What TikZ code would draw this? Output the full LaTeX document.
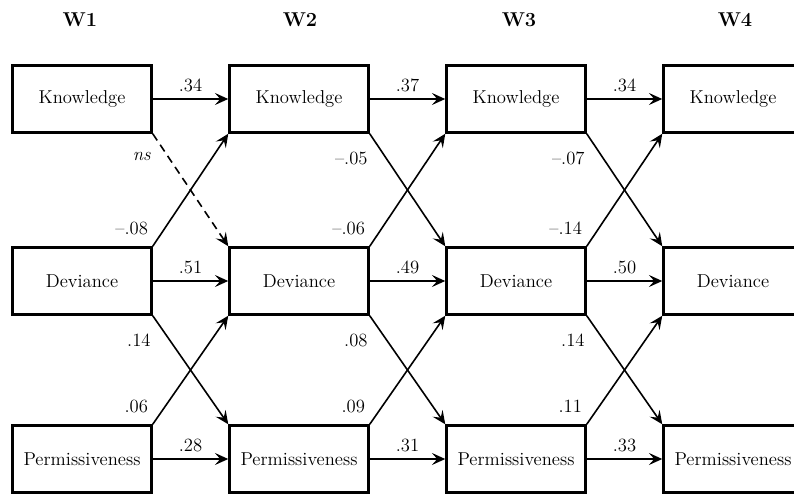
\documentclass[tikz,border=0pt]{standalone}
\usepackage{fontspec}
\usetikzlibrary{arrows.meta}

\begin{document}
\begin{tikzpicture}[x=0.75pt, y=-0.75pt,
    every node/.style={font=\fontsize{14}{16}\selectfont},
    var/.style={draw, line width=2.1pt, minimum width=104pt, minimum height=50pt, inner sep=0pt},
    wave/.style={font=\fontsize{15}{17}\selectfont\bfseries},
    eff/.style={line width=1.2pt, -{Stealth[length=10pt, width=9pt, inset=4pt]}},
    hlab/.style={midway, above=5pt, inner sep=0pt},
    uplab/.style={at start, anchor=south east, inner sep=2pt, xshift=-1pt, yshift=6.25pt},
    dnlab/.style={at start, anchor=north east, inner sep=2pt, xshift=1pt, yshift=-11pt}]
    % 0. frame of the figure (the right column runs past the edge)
    \useasboundingbox (0,0) rectangle (794,496);
    \clip (0,0) rectangle (794,496);

    % 1. waves
    \node[wave] (w1) at (80,20) {W1};
    \node[wave] (w2) at (300,20) {W2};
    \node[wave] (w3) at (519,20) {W3};
    \node[wave] (w4) at (735,20) {W4};

    % 2. variables at each wave
    \node[var] (know1) at (82,99) {Knowledge};
    \node[var] (dev1)  at (82,281) {Deviance};
    \node[var] (perm1) at (82,459) {Permissiveness};

    \node[var] (know2) at (299,99) {Knowledge};
    \node[var] (dev2)  at (299,281) {Deviance};
    \node[var] (perm2) at (299,459) {Permissiveness};

    \node[var] (know3) at (516,99) {Knowledge};
    \node[var] (dev3)  at (516,281) {Deviance};
    \node[var] (perm3) at (516,459) {Permissiveness};

    \node[var] (know4) at (733,99) {Knowledge};
    \node[var] (dev4)  at (733,281) {Deviance};
    \node[var] (perm4) at (733,459) {Permissiveness};

    % 3. stability paths
    \draw[eff] (know1) -- node[hlab] {.34} (know2);
    \draw[eff] (dev1)  -- node[hlab] {.51} (dev2);
    \draw[eff] (perm1) -- node[hlab] {.28} (perm2);

    \draw[eff] (know2) -- node[hlab] {.37} (know3);
    \draw[eff] (dev2)  -- node[hlab] {.49} (dev3);
    \draw[eff] (perm2) -- node[hlab] {.31} (perm3);

    \draw[eff] (know3) -- node[hlab] {.34} (know4);
    \draw[eff] (dev3)  -- node[hlab] {.50} (dev4);
    \draw[eff] (perm3) -- node[hlab] {.33} (perm4);

    % 4. cross-lagged paths W1 -> W2 (ns path dashed)
    \draw[eff, dash pattern=on 6pt off 4pt] (know1.south east) -- node[dnlab] {\itshape ns} (dev2.north west);
    \draw[eff] (dev1.north east)  -- node[uplab] {--.08} (know2.south west);
    \draw[eff] (dev1.south east)  -- node[dnlab] {.14} (perm2.north west);
    \draw[eff] (perm1.north east) -- node[uplab] {.06} (dev2.south west);

    % 5. cross-lagged paths W2 -> W3
    \draw[eff] (know2.south east) -- node[dnlab] {--.05} (dev3.north west);
    \draw[eff] (dev2.north east)  -- node[uplab] {--.06} (know3.south west);
    \draw[eff] (dev2.south east)  -- node[dnlab] {.08} (perm3.north west);
    \draw[eff] (perm2.north east) -- node[uplab] {.09} (dev3.south west);

    % 6. cross-lagged paths W3 -> W4
    \draw[eff] (know3.south east) -- node[dnlab] {--.07} (dev4.north west);
    \draw[eff] (dev3.north east)  -- node[uplab] {--.14} (know4.south west);
    \draw[eff] (dev3.south east)  -- node[dnlab] {.14} (perm4.north west);
    \draw[eff] (perm3.north east) -- node[uplab] {.11} (dev4.south west);
\end{tikzpicture}
\end{document}
